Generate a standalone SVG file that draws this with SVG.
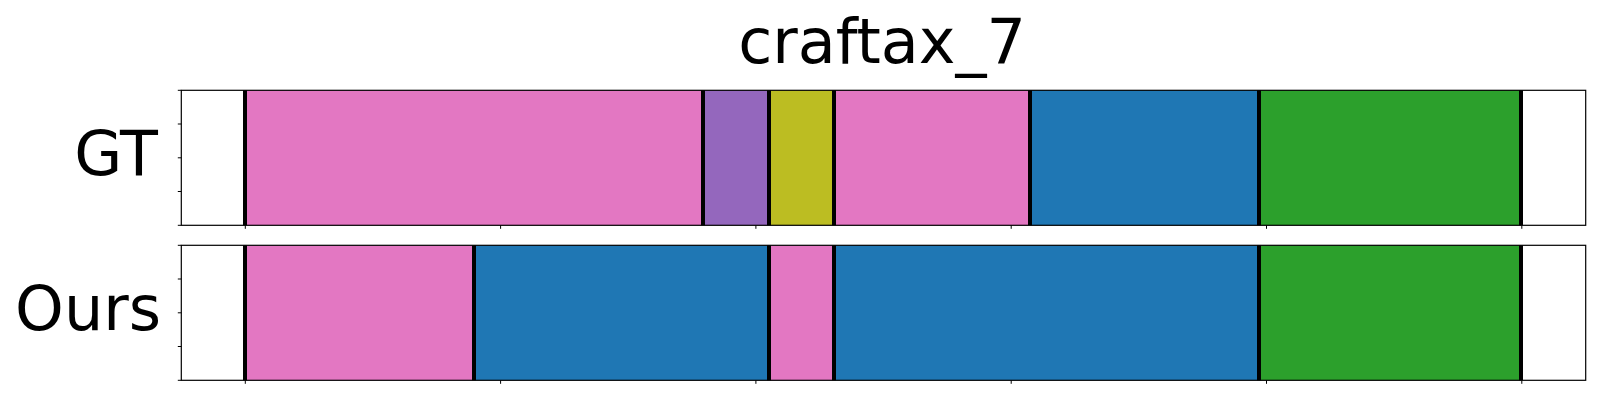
<svg xmlns="http://www.w3.org/2000/svg" width="1600" height="400" viewBox="0 0 1600 400">
  <style>
    text { font-family: "DejaVu Sans", "Liberation Sans", sans-serif; fill: #000; }
    .title { font-size: 62px; }
    .lab { font-size: 62px; }
    .pink { fill: #e377c2; }
    .purple { fill: #9467bd; }
    .olive { fill: #bcbd22; }
    .blue { fill: #1f77b4; }
    .green { fill: #2ca02c; }
    .bnd { stroke: #000; stroke-width: 4; }
    .spine { fill: none; stroke: #000; stroke-width: 1.2; }
    .tick { stroke: #000; stroke-width: 1; }
  </style>
  <rect width="1600" height="400" fill="#fff"/>
  <text class="title" x="882" y="63" text-anchor="middle">craftax_7</text>

  <g id="gt">
    <text class="lab" x="158" y="175" text-anchor="end">GT</text>
    <rect class="pink" x="245" y="90.3" width="458" height="135"/>
    <rect class="purple" x="703" y="90.3" width="66" height="135"/>
    <rect class="olive" x="769" y="90.3" width="65" height="135"/>
    <rect class="pink" x="834" y="90.3" width="196" height="135"/>
    <rect class="blue" x="1030" y="90.3" width="229" height="135"/>
    <rect class="green" x="1259" y="90.3" width="262" height="135"/>
    <g class="bnd">
      <line x1="245" y1="90.3" x2="245" y2="225.3"/>
      <line x1="703" y1="90.3" x2="703" y2="225.3"/>
      <line x1="769" y1="90.3" x2="769" y2="225.3"/>
      <line x1="834" y1="90.3" x2="834" y2="225.3"/>
      <line x1="1030" y1="90.3" x2="1030" y2="225.3"/>
      <line x1="1259" y1="90.3" x2="1259" y2="225.3"/>
      <line x1="1521" y1="90.3" x2="1521" y2="225.3"/>
    </g>
    <rect class="spine" x="181.3" y="90.3" width="1404.4" height="135"/>
    <g class="tick">
      <line x1="177.8" y1="90.3" x2="181.3" y2="90.3"/>
      <line x1="177.8" y1="124" x2="181.3" y2="124"/>
      <line x1="177.8" y1="157.8" x2="181.3" y2="157.8"/>
      <line x1="177.8" y1="191.5" x2="181.3" y2="191.5"/>
      <line x1="177.8" y1="225.3" x2="181.3" y2="225.3"/>
      <line x1="245.3" y1="225.3" x2="245.3" y2="228.8"/>
      <line x1="500.6" y1="225.3" x2="500.6" y2="228.8"/>
      <line x1="755.9" y1="225.3" x2="755.9" y2="228.8"/>
      <line x1="1011.2" y1="225.3" x2="1011.2" y2="228.8"/>
      <line x1="1266.5" y1="225.3" x2="1266.5" y2="228.8"/>
      <line x1="1521.8" y1="225.3" x2="1521.8" y2="228.8"/>
    </g>
  </g>

  <g id="ours">
    <text class="lab" x="161" y="330" text-anchor="end">Ours</text>
    <rect class="pink" x="245" y="245.3" width="229" height="135"/>
    <rect class="blue" x="474" y="245.3" width="295" height="135"/>
    <rect class="pink" x="769" y="245.3" width="65" height="135"/>
    <rect class="blue" x="834" y="245.3" width="425" height="135"/>
    <rect class="green" x="1259" y="245.3" width="262" height="135"/>
    <g class="bnd">
      <line x1="245" y1="245.3" x2="245" y2="380.3"/>
      <line x1="474" y1="245.3" x2="474" y2="380.3"/>
      <line x1="769" y1="245.3" x2="769" y2="380.3"/>
      <line x1="834" y1="245.3" x2="834" y2="380.3"/>
      <line x1="1259" y1="245.3" x2="1259" y2="380.3"/>
      <line x1="1521" y1="245.3" x2="1521" y2="380.3"/>
    </g>
    <rect class="spine" x="181.3" y="245.3" width="1404.4" height="135"/>
    <g class="tick">
      <line x1="177.8" y1="245.3" x2="181.3" y2="245.3"/>
      <line x1="177.8" y1="279" x2="181.3" y2="279"/>
      <line x1="177.8" y1="312.8" x2="181.3" y2="312.8"/>
      <line x1="177.8" y1="346.5" x2="181.3" y2="346.5"/>
      <line x1="177.8" y1="380.3" x2="181.3" y2="380.3"/>
      <line x1="245.3" y1="380.3" x2="245.3" y2="383.8"/>
      <line x1="500.6" y1="380.3" x2="500.6" y2="383.8"/>
      <line x1="755.9" y1="380.3" x2="755.9" y2="383.8"/>
      <line x1="1011.2" y1="380.3" x2="1011.2" y2="383.8"/>
      <line x1="1266.5" y1="380.3" x2="1266.5" y2="383.8"/>
      <line x1="1521.8" y1="380.3" x2="1521.8" y2="383.8"/>
    </g>
  </g>
</svg>
